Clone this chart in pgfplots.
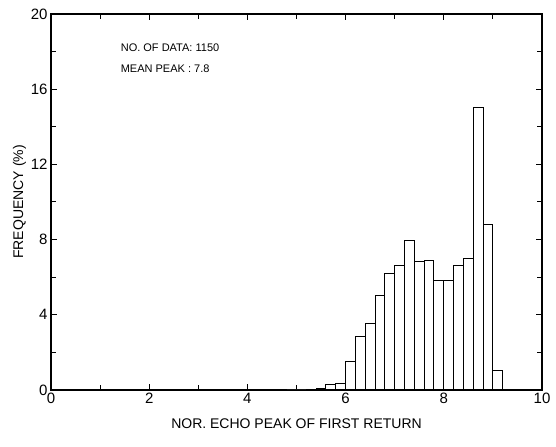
\documentclass[border=0pt]{standalone}
\usepackage{pgfplots}
\pgfplotsset{compat=1.18}
\usepackage{fontspec}
\setmainfont{Liberation Sans}
\setsansfont{Liberation Sans}

% histogram of normalised echo peaks, bins 0.2 wide (left edges)
\pgfplotstableread{
x     f
4.6   0.05
4.8   0
5.0   0
5.2   0.04
5.4   0.08
5.6   0.27
5.8   0.35
6.0   1.50
6.2   2.84
6.4   3.55
6.6   5.05
6.8   6.17
7.0   6.61
7.2   7.94
7.4   6.86
7.6   6.90
7.8   5.81
8.0   5.80
8.2   6.61
8.4   7.00
8.6   15.0
8.8   8.78
9.0   1.03
9.2   0
}\peaktable

\begin{document}
\begin{tikzpicture}
\begin{axis}[
  scale only axis,
  width=491pt, height=376pt,
  xmin=0, xmax=10, ymin=0, ymax=20,
  xtick={0,2,...,10}, minor xtick={1,3,...,9},
  ytick={0,4,...,20}, minor ytick={2,6,...,18},
  tick align=inside,
  major tick length=6pt, minor tick length=5pt,
  axis line style={line width=1.1pt},
  every tick/.style={black, line width=1pt},
  tick label style={font=\fontsize{15}{17}\selectfont},
  /pgf/number format/assume math mode=true,
  xlabel={NOR. ECHO PEAK OF FIRST RETURN},
  ylabel={FREQUENCY (\%)},
  label style={font=\fontsize{14}{16}\selectfont},
  xlabel style={yshift=-8pt},
  ylabel style={yshift=-2pt},
  clip=false,
]
\addplot[ybar interval=1, draw=black, fill=white, line width=1pt]
  table[x=x, y=f] {\peaktable};
\node[anchor=west, font=\fontsize{11}{13}\selectfont] at (axis cs:1.35,18.2) {NO. OF DATA: 1150};
\node[anchor=west, font=\fontsize{11}{13}\selectfont] at (axis cs:1.35,17.1) {MEAN PEAK : 7.8};
\path (axis description cs:-0.1039,-0.1516) rectangle (axis description cs:1.0285,1.0372);
\end{axis}
\end{tikzpicture}
\end{document}
